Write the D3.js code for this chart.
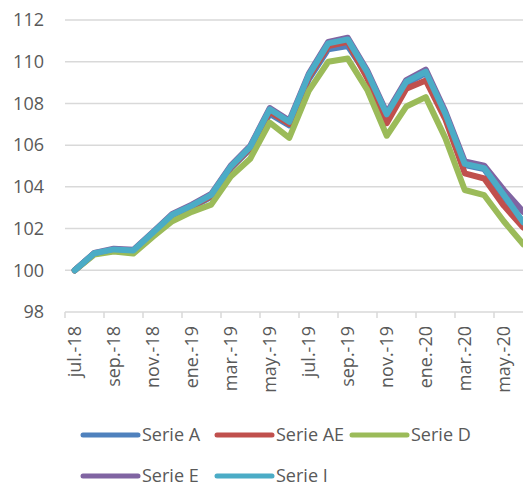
<!DOCTYPE html>
<html>
<head>
<meta charset="utf-8">
<script src="https://cdn.jsdelivr.net/npm/d3@7"></script>
<style>
  html, body { margin: 0; padding: 0; background: #fff; }
  svg { display: block; font-family: "Open Sans", sans-serif; }
</style>
</head>
<body>
<svg id="chart" width="523" height="482"></svg>
<script>
const categories = ["jul.-18","ago.-18","sep.-18","oct.-18","nov.-18","dic.-18","ene.-19","feb.-19","mar.-19","abr.-19","may.-19","jun.-19","jul.-19","ago.-19","sep.-19","oct.-19","nov.-19","dic.-19","ene.-20","feb.-20","mar.-20","abr.-20","may.-20","jun.-20"];

const serieA  = [100, 100.80, 100.98, 100.92, 101.75, 102.60, 103.02, 103.52, 104.88, 105.82, 107.50, 106.95, 109.15, 110.60, 110.75, 109.35, 107.40, 108.95, 109.45, 107.45, 105.05, 104.85, 103.55, 102.25];
const serieAE = [100, 100.81, 100.99, 100.94, 101.78, 102.63, 103.06, 103.56, 104.92, 105.86, 107.60, 107.02, 109.25, 110.75, 110.95, 109.20, 107.05, 108.70, 109.10, 107.25, 104.65, 104.40, 103.10, 102.05];
const serieD  = [100, 100.75, 100.90, 100.80, 101.60, 102.35, 102.80, 103.15, 104.50, 105.35, 107.08, 106.35, 108.60, 110.00, 110.15, 108.65, 106.45, 107.85, 108.30, 106.35, 103.85, 103.60, 102.35, 101.25];
const serieE  = [100, 100.83, 101.03, 100.98, 101.83, 102.70, 103.15, 103.66, 105.02, 105.96, 107.78, 107.18, 109.42, 110.95, 111.15, 109.58, 107.55, 109.12, 109.62, 107.62, 105.22, 105.02, 103.85, 102.80];
const serieI  = [100, 100.82, 101.00, 100.95, 101.80, 102.66, 103.10, 103.62, 104.97, 105.92, 107.72, 107.12, 109.36, 110.88, 111.07, 109.50, 107.48, 109.04, 109.52, 107.52, 105.10, 104.90, 103.62, 102.30];

const seriesNames = ["Serie A", "Serie AE", "Serie D", "Serie E", "Serie I"];
const seriesValues = [serieA, serieAE, serieD, serieE, serieI];
const seriesColors = ["#4F81BD", "#C0504D", "#9BBB59", "#8064A2", "#4BACC6"];
const yTicks = [98, 100, 102, 104, 106, 108, 110, 112];

const svg = d3.select("#chart");
const plotLeft = 65, plotTop = 20, plotBottom = 312;
const band = 19.5;

const x = d3.scaleBand().domain(categories).range([plotLeft, plotLeft + band * categories.length]).padding(0);
const y = d3.scaleLinear().domain([98, 112]).range([plotBottom, plotTop]);
const cx = c => x(c) + x.bandwidth() / 2;

// gridlines
svg.append("g").selectAll("line").data(yTicks.filter(t => t !== 98)).join("line")
  .attr("x1", plotLeft).attr("x2", 523)
  .attr("y1", d => y(d)).attr("y2", d => y(d))
  .attr("stroke", "#D9D9D9").attr("stroke-width", 1.5);

// y labels
svg.append("g").selectAll("text").data(yTicks).join("text")
  .attr("x", 44).attr("y", d => y(d)).attr("dy", "0.35em")
  .attr("text-anchor", "end").attr("font-size", 18).attr("fill", "#595959")
  .text(d => d);

// x axis line
svg.append("line").attr("x1", plotLeft).attr("x2", 523)
  .attr("y1", plotBottom).attr("y2", plotBottom)
  .attr("stroke", "#D9D9D9").attr("stroke-width", 1.5);

// x ticks every two categories at boundaries
const tickCats = categories.filter((c, i) => i % 2 === 0);
svg.append("g").selectAll("line").data(tickCats).join("line")
  .attr("x1", d => x(d)).attr("x2", d => x(d))
  .attr("y1", plotBottom).attr("y2", plotBottom + 6)
  .attr("stroke", "#D9D9D9").attr("stroke-width", 1.5);

// x labels
svg.append("g").selectAll("text").data(tickCats).join("text")
  .attr("transform", d => `translate(${cx(d)},${plotBottom + 14}) rotate(-90)`)
  .attr("dy", "0.35em").attr("text-anchor", "end")
  .attr("font-size", 18).attr("fill", "#595959")
  .text(d => d);

// lines
const line = d3.line().x((d, i) => cx(categories[i])).y(d => y(d));
seriesValues.forEach((vals, k) => {
  svg.append("path").datum(vals)
    .attr("d", line)
    .attr("fill", "none")
    .attr("stroke", seriesColors[k])
    .attr("stroke-width", 6)
    .attr("stroke-linejoin", "round")
    .attr("stroke-linecap", "round");
});

// legend
const legendPos = [[83, 435], [217, 435], [352, 435], [83, 476], [217, 476]];
seriesNames.forEach((name, k) => {
  const [lx, ly] = legendPos[k];
  svg.append("line").attr("x1", lx).attr("x2", lx + 55).attr("y1", ly).attr("y2", ly)
    .attr("stroke", seriesColors[k]).attr("stroke-width", 5).attr("stroke-linecap", "round");
  svg.append("text").attr("x", lx + 59).attr("y", ly).attr("dy", "0.35em")
    .attr("font-size", 18).attr("fill", "#595959").text(name);
});
</script>
</body>
</html>
